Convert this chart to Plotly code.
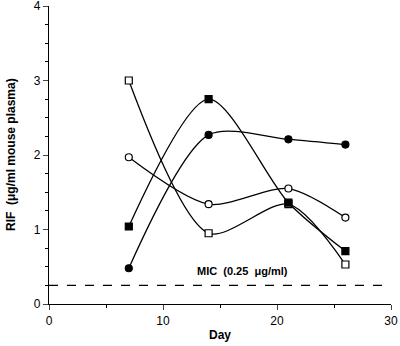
import plotly.graph_objects as go

days = [7, 14, 21, 26]
open_square = [3.0, 0.95, 1.34, 0.53]
open_circle = [1.97, 1.34, 1.55, 1.16]
filled_square = [1.04, 2.75, 1.36, 0.71]
filled_circle = [0.48, 2.27, 2.21, 2.14]
mic = 0.25
mic_x = [0, 30]

series = [
    (open_square, "square", "white"),
    (open_circle, "circle", "white"),
    (filled_square, "square", "black"),
    (filled_circle, "circle", "black"),
]

fig = go.Figure()
for vals, sym, fill in series:
    fig.add_trace(go.Scatter(
        x=days, y=vals, mode="lines+markers",
        line=dict(color="black", width=1.3, shape="spline", smoothing=0.8),
        marker=dict(symbol=sym, size=7, color=fill,
                    line=dict(color="black", width=1.2)),
        showlegend=False, cliponaxis=False))

fig.add_trace(go.Scatter(
    x=mic_x, y=[mic, mic], mode="lines",
    line=dict(color="black", width=1.2, dash="dash"), showlegend=False))

FONT = "Liberation Sans, Arial"
fig.add_annotation(x=12.8, y=mic, yshift=14, xanchor="left", yanchor="middle",
                   text="<b>MIC  (0.25  μg/ml)</b>", showarrow=False,
                   font=dict(size=11, color="black", family=FONT))
fig.add_annotation(xref="paper", yref="paper", x=0.5, y=0, yshift=-31,
                   xanchor="center", yanchor="middle", text="<b>Day</b>",
                   showarrow=False, font=dict(size=12, color="black", family=FONT))
fig.add_annotation(xref="paper", yref="paper", x=0, xshift=-38, y=0.5,
                   xanchor="center", yanchor="middle", textangle=-90,
                   text="<b>RIF  (μg/ml mouse plasma)</b>",
                   showarrow=False, font=dict(size=12, color="black", family=FONT))

fig.update_layout(
    width=400, height=346,
    margin=dict(l=49, r=9, t=6, b=42, autoexpand=False),
    plot_bgcolor="white", paper_bgcolor="white",
    font=dict(family=FONT, size=12, color="black"),
)
fig.update_xaxes(
    range=[0, 30], tickvals=[0, 10, 20, 30], ticks="outside", ticklen=5,
    tickwidth=1, showline=True, linecolor="black", linewidth=1.2,
    showgrid=False, zeroline=False, automargin=False, ticklabeloverflow="allow",
    minor=dict(tickvals=[5, 15, 25], ticks="outside", ticklen=3, tickcolor="black"),
)
fig.update_yaxes(
    range=[0, 4], tickvals=[0, 1, 2, 3, 4], ticks="outside", ticklen=5,
    tickwidth=1, showline=True, linecolor="black", linewidth=1.2,
    showgrid=False, zeroline=False, automargin=False, ticklabeloverflow="allow",
    minor=dict(dtick=0.25, ticks="outside", ticklen=3, tickcolor="black"),
)
fig.write_html("out.html", config={"displayModeBar": False},
               post_script="document.body.style.margin='0';")
